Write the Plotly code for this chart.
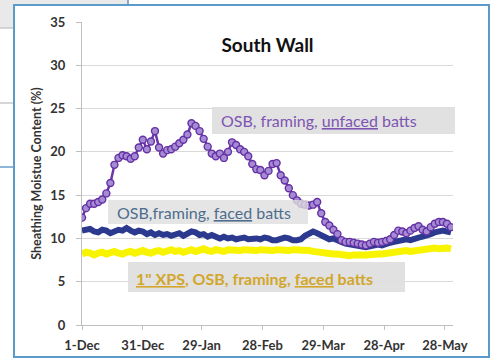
import plotly.graph_objects as go
import pandas as pd

# ---------------- data ----------------
start_date = "2011-12-01"
step_days = 2

unfaced = [12.4, 13.5, 14.0, 14.0, 14.2, 14.5, 15.2, 16.4, 18.5, 19.3,
           19.6, 19.5, 19.2, 19.5, 20.5, 21.4, 20.3, 21.2, 22.4, 20.5,
           19.8, 20.2, 20.3, 20.6, 21.0, 21.4, 22.0, 23.3, 23.0, 22.4,
           21.5, 20.6, 19.8, 19.5, 19.8, 19.3, 20.0, 21.1, 20.8, 20.3,
           20.0, 19.5, 18.6, 18.0, 17.9, 17.3, 17.8, 18.6, 18.7, 17.3,
           16.7, 15.8, 15.0, 14.4, 14.0, 13.9, 13.8, 13.9, 14.2, 12.9,
           11.9, 11.5, 11.0, 10.5, 9.8, 9.6, 9.6, 9.5, 9.4, 9.3,
           9.2, 9.4, 9.6, 9.5, 9.6, 9.7, 9.9, 10.4, 10.9, 10.8,
           10.6, 10.9, 11.2, 11.4, 11.0, 10.8, 11.3, 11.7, 11.9, 11.9,
           11.7, 11.3]

faced = [10.9, 11.0, 11.1, 10.8, 10.7, 11.0, 10.9, 10.6, 10.8, 11.0,
         10.9, 11.2, 10.9, 10.7, 10.9, 10.8, 10.5, 10.7, 10.4, 10.6,
         10.4, 10.5, 10.3, 10.4, 10.6, 10.3, 10.5, 10.8, 10.7, 10.4,
         10.5, 10.2, 10.4, 10.1, 10.0, 10.2, 10.0, 10.1, 9.9, 10.0,
         10.1, 9.9, 10.0, 10.0, 9.9, 10.1, 10.0, 9.8, 9.8, 9.9,
         10.1, 10.0, 9.8, 9.8, 9.9, 10.3, 10.6, 10.8, 10.6, 10.3,
         10.1, 9.9, 10.0, 9.7, 9.6, 9.4, 9.3, 9.2, 9.1, 9.0,
         9.0, 9.1, 9.2, 9.3, 9.2, 9.4, 9.5, 9.6, 9.7, 9.8,
         9.9, 9.8, 10.0, 10.1, 10.2, 10.3, 10.5, 10.7, 10.8, 10.9,
         10.8, 10.7]

xps = [8.2, 8.4, 8.3, 8.1, 8.3, 8.4, 8.2, 8.3, 8.5, 8.3,
       8.2, 8.4, 8.5, 8.3, 8.4, 8.6, 8.4, 8.3, 8.5, 8.6,
       8.4, 8.5, 8.7, 8.5, 8.6, 8.4, 8.6, 8.7, 8.5, 8.6,
       8.8, 8.6, 8.5, 8.7, 8.6, 8.5, 8.7, 8.6, 8.5, 8.6,
       8.7, 8.6, 8.5, 8.6, 8.7, 8.6, 8.5, 8.6, 8.7, 8.6,
       8.5, 8.6, 8.7, 8.7, 8.8, 8.7, 8.6, 8.5, 8.4, 8.4,
       8.3, 8.3, 8.2, 8.2, 8.1, 8.1, 8.0, 8.1, 8.0, 8.1,
       8.1, 8.2, 8.1, 8.2, 8.2, 8.3, 8.3, 8.4, 8.4, 8.5,
       8.6, 8.5, 8.6, 8.7, 8.6, 8.7, 8.8, 8.9, 8.8, 8.9,
       8.9, 8.8]

tick_dates = ["2011-12-01", "2011-12-31", "2012-01-29", "2012-02-28",
              "2012-03-29", "2012-04-28", "2012-05-28"]
tick_labels = ["1-Dec", "31-Dec", "29-Jan", "28-Feb", "29-Mar", "28-Apr", "28-May"]
y_ticks = [0, 5, 10, 15, 20, 25, 30, 35]

dates = pd.date_range(start_date, periods=len(unfaced), freq=f"{step_days}D")

# ---------------- figure ----------------
W, H = 496, 361
L, R, T, B = 82, 453, 22, 325


def px(x):
    return (x - L) / (R - L)


def py(y):
    return (B - y) / (B - T)


FONT = "Lato"

fig = go.Figure()
fig.add_trace(go.Scatter(x=dates, y=xps, mode="lines",
                         line=dict(color="#F8F400", width=7), hoverinfo="skip"))
fig.add_trace(go.Scatter(x=dates, y=faced, mode="lines",
                         line=dict(color="#2B3A8F", width=6), hoverinfo="skip"))
fig.add_trace(go.Scatter(x=dates, y=unfaced, mode="lines+markers",
                         line=dict(color="#6B36A8", width=2.5),
                         marker=dict(symbol="circle", size=7, color="#A58BD3",
                                     line=dict(color="#6530A5", width=1.4)),
                         hoverinfo="skip"))

shapes = []
# outer page decorations
shapes.append(dict(type="rect", xref="paper", yref="paper", x0=px(0), x1=px(14), y0=py(0), y1=py(28),
                   fillcolor="#e9e9e9", line=dict(width=0), layer="below"))
shapes.append(dict(type="rect", xref="paper", yref="paper", x0=px(0), x1=px(128), y0=py(0), y1=py(5),
                   fillcolor="#e9e9e9", line=dict(width=0), layer="below"))
for yy, col in [(28, "#c8c8c8"), (103, "#c8c8c8"), (167, "#6a9ccc")]:
    shapes.append(dict(type="line", xref="paper", yref="paper", x0=px(0), x1=px(14), y0=py(yy), y1=py(yy),
                       line=dict(color=col, width=1.5), layer="below"))
shapes.append(dict(type="line", xref="paper", yref="paper", x0=px(128), x1=px(128), y0=py(0), y1=py(5),
                   line=dict(color="#6a8cb0", width=1.5), layer="below"))
# chart frame
shapes.append(dict(type="rect", xref="paper", yref="paper", x0=px(14), x1=px(489), y0=py(5), y1=py(357),
                   line=dict(color="#5B9BCB", width=2), fillcolor="rgba(0,0,0,0)", layer="below"))
# label boxes
shapes.append(dict(type="rect", xref="paper", yref="paper", x0=px(212), x1=px(455), y0=py(107), y1=py(134),
                   fillcolor="rgba(222,222,222,0.9)", line=dict(width=0), layer="above"))
shapes.append(dict(type="rect", xref="paper", yref="paper", x0=px(108), x1=px(308), y0=py(200), y1=py(224),
                   fillcolor="rgba(222,222,222,0.8)", line=dict(width=0), layer="above"))
shapes.append(dict(type="rect", xref="paper", yref="paper", x0=px(128), x1=px(405), y0=py(262), y1=py(292),
                   fillcolor="rgba(222,222,222,0.9)", line=dict(width=0), layer="above"))

annotations = [
    dict(text="OSB, framing, <u>unfaced</u> batts", xref="paper", yref="paper",
         x=px(219), y=py(120), xanchor="left", yanchor="middle", showarrow=False,
         font=dict(family=FONT, size=16, color="#7E55B3")),
    dict(text="OSB,framing, <u>faced</u> batts", xref="paper", yref="paper",
         x=px(115), y=py(212), xanchor="left", yanchor="middle", showarrow=False,
         font=dict(family=FONT, size=16, color="#4E6D8E")),
    dict(text="<b><u>1\" XPS</u>, OSB, framing, <u>faced</u> batts</b>", xref="paper", yref="paper",
         x=px(134), y=py(278), xanchor="left", yanchor="middle", showarrow=False,
         font=dict(family=FONT, size=16, color="#D2A62A")),
]

fig.update_layout(
    width=W, height=H,
    margin=dict(l=L, r=W - R, t=T, b=H - B, autoexpand=False),
    paper_bgcolor="white", plot_bgcolor="white",
    showlegend=False,
    title=dict(text="<b>South Wall</b>", x=0.5, xref="paper", y=1 - 45 / H, yref="container",
               xanchor="center", yanchor="middle",
               font=dict(family=FONT, size=19, color="#111111")),
    shapes=shapes, annotations=annotations,
    xaxis=dict(type="date", range=["2011-12-01", "2012-06-01"],
               tickvals=tick_dates, ticktext=tick_labels,
               showgrid=False, showline=True, linecolor="#bfbfbf", linewidth=1,
               ticks="outside", ticklen=4, tickcolor="#bfbfbf",
               ticklabelstandoff=4,
               tickfont=dict(family=FONT, size=13, color="#333333", weight="bold"),
               zeroline=False),
    yaxis=dict(range=[0, 35], tickvals=y_ticks,
               showgrid=True, gridcolor="#d9d9d9", gridwidth=1,
               showline=True, linecolor="#bfbfbf", linewidth=1,
               ticks="outside", ticklen=5, tickcolor="#bfbfbf",
               ticklabelstandoff=8,
               tickfont=dict(family=FONT, size=13, color="#333333", weight="bold"),
               title=dict(text="<b>Sheathing Moistue Content (%)</b>", standoff=5,
                          font=dict(family=FONT, size=12.5, color="#333333")),
               zeroline=False),
)

fig.write_html("out.html")
